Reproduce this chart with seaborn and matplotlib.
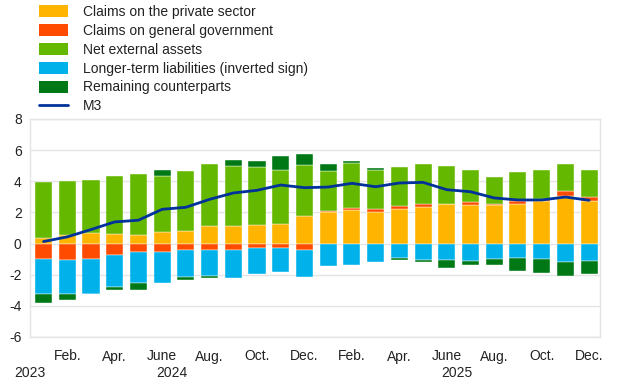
import numpy as np
import pandas as pd
import matplotlib
matplotlib.use("Agg")
import matplotlib.pyplot as plt
import seaborn as sns
from matplotlib.patches import Patch
from matplotlib.lines import Line2D

sns.set_style("white")
plt.rcParams['font.family'] = ['Liberation Sans', 'DejaVu Sans']

# monthly contributions, percentage points (24 months)
months = ["Jan.", "Feb.", "Mar.", "Apr.", "May", "June", "July", "Aug.", "Sep.", "Oct.", "Nov.", "Dec."] * 2
private = [0.34, 0.58, 0.70, 0.64, 0.53, 0.75, 0.83, 1.11, 1.11, 1.20, 1.28, 1.75,
           2.01, 2.14, 2.05, 2.24, 2.33, 2.52, 2.48, 2.48, 2.52, 2.75, 3.08, 2.76]
government = [-0.97, -1.08, -0.99, -0.75, -0.54, -0.52, -0.39, -0.39, -0.43, -0.30, -0.28, -0.39,
              0.10, 0.12, 0.19, 0.20, 0.21, 0.03, 0.21, 0.03, 0.19, 0.14, 0.27, 0.25]
net_external = [3.59, 3.42, 3.36, 3.72, 3.96, 3.61, 3.83, 3.98, 3.85, 3.71, 3.44, 3.27,
                2.57, 2.91, 2.48, 2.47, 2.57, 2.46, 2.01, 1.78, 1.88, 1.83, 1.76, 1.73]
longer_term = [-2.26, -2.19, -2.24, -2.05, -2.00, -2.00, -1.76, -1.72, -1.76, -1.64, -1.55, -1.76,
               -1.46, -1.38, -1.18, -0.95, -1.08, -1.05, -1.10, -1.01, -0.95, -0.99, -1.20, -1.12]
remaining = [-0.58, -0.34, -0.04, -0.21, -0.47, 0.34, -0.17, -0.08, 0.40, 0.41, 0.88, 0.75,
             0.43, 0.11, 0.13, -0.10, -0.08, -0.54, -0.30, -0.34, -0.84, -0.92, -0.88, -0.86]
m3 = [0.13, 0.43, 0.90, 1.39, 1.50, 2.20, 2.33, 2.84, 3.25, 3.42, 3.76, 3.59,
      3.63, 3.87, 3.65, 3.89, 3.93, 3.46, 3.33, 2.93, 2.80, 2.80, 2.99, 2.78]

series = [
    ("Claims on the private sector", private, "#ffb400"),
    ("Claims on general government", government, "#ff4b00"),
    ("Net external assets", net_external, "#65b800"),
    ("Longer-term liabilities (inverted sign)", longer_term, "#00b1ea"),
    ("Remaining counterparts", remaining, "#007816"),
]

n = len(m3)
idx = np.arange(n)

fig = plt.figure(figsize=(6.2, 3.87), dpi=100)
ax = fig.add_axes([30 / 620, 1 - 337 / 387, 570 / 620, 218 / 387])

pos_bottom = np.zeros(n)
neg_bottom = np.zeros(n)
for label, vals, col in series:
    vals = np.array(vals)
    bottom = np.where(vals >= 0, pos_bottom, neg_bottom)
    df = pd.DataFrame({"x": idx, "v": vals})
    sns.barplot(data=df, x="x", y="v", order=list(idx), color=col, saturation=1,
                width=0.72, bottom=bottom, edgecolor="white", linewidth=0.3, ax=ax)
    pos_bottom = pos_bottom + np.where(vals >= 0, vals, 0)
    neg_bottom = neg_bottom + np.where(vals < 0, vals, 0)

sns.lineplot(x=idx, y=m3, color="#003299", linewidth=2, ax=ax)

ax.set_xlim(-0.57, n - 0.54)
ax.set_ylim(-6, 8)
ax.set_yticks(np.arange(-6, 9, 2))
ax.set_yticklabels([str(v) for v in range(-6, 9, 2)])
ax.set_xticks(idx[1::2])
ax.set_xticklabels([months[i] for i in idx[1::2]])
ax.set_xlabel("")
ax.set_ylabel("")
ax.tick_params(axis="both", length=0, labelsize=10, colors="#222222")
ax.tick_params(axis="x", pad=9)
ax.tick_params(axis="y", pad=6)
ax.grid(axis="y", color="#e4e4e4", linewidth=1)
ax.set_axisbelow(True)
for sp in ax.spines.values():
    sp.set_color("#e4e4e4")
    sp.set_linewidth(1)

trans = ax.get_xaxis_transform()
for xpos, yr in [(-0.57, "2023"), (5.42, "2024"), (17.43, "2025")]:
    ax.text(xpos, -0.165, yr, transform=trans, ha="center", va="center",
            fontsize=10, color="#222222")

handles = [Patch(facecolor=c, edgecolor="none") for _, _, c in series]
handles.append(Line2D([0], [0], color="#003299", linewidth=2))
labels = [s[0] for s in series] + ["M3"]
fig.legend(handles, labels, loc="upper left", bbox_to_anchor=(39 / 620, 0.987),
           frameon=False, fontsize=10, handlelength=2.1, handleheight=1.0,
           handletextpad=1.08, labelspacing=0.35, borderpad=0, borderaxespad=0,
           labelcolor="#222222")

fig.savefig("out.png", dpi=100)
